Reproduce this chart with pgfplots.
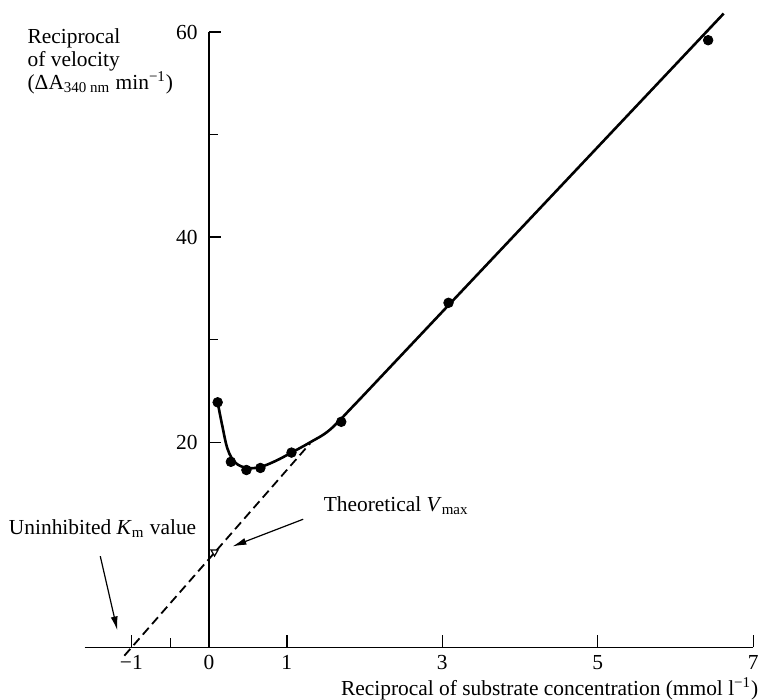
\documentclass[border=0pt]{standalone}
\usepackage{fontspec}
\setmainfont{Liberation Serif}
\usepackage{pgfplots}
\pgfplotsset{compat=1.18}
\usetikzlibrary{arrows.meta}

\begin{document}
\fontsize{10.7}{11.5}\selectfont
\begin{tikzpicture}
\begin{axis}[
  scale only axis, width=334pt, height=307.5pt,
  xmin=-1.6, xmax=7, ymin=0, ymax=60,
  axis lines=middle,
  axis line style={-, line width=0.7pt},
  clip=false,
  xtick={-1,0,1,3,5,7}, xticklabels={−1,0,1,3,5,7},
  minor xtick={-0.5},
  ytick={20,40,60}, minor ytick={30,50},
  hide obscured x ticks=false,
  tick align=inside,
  major tick length=6pt, minor tick length=4.5pt,
  tick style={black, line width=0.7pt},
  /pgf/number format/assume math mode=true,
  yticklabel style={xshift=-2pt},
]
% measured points
\addplot[only marks, mark=*, mark size=2.4pt, black] coordinates {
  (0.11,23.9) (0.28,18.1) (0.48,17.3) (0.66,17.5)
  (1.06,19.0) (1.70,22.0) (3.08,33.6) (6.42,59.2)
};
% fitted curve, joining the straight part
\addplot[black, line width=1.3pt, smooth, tension=0.6] coordinates {
  (0.11,23.9) (0.17,21.6) (0.24,19.3) (0.34,18.0) (0.49,17.5)
  (0.66,17.6) (0.86,18.2) (1.06,19.0) (1.30,20.0) (1.55,21.2)
  (1.85,23.5) (2.20,26.3)
};
\addplot[black, line width=1.3pt] coordinates {(2.20,26.3) (6.62,61.8)};
% theoretical line
\addplot[black, line width=0.9pt, dash pattern=on 4.5pt off 2.5pt] coordinates {(-1.09,-0.8) (1.30,19.9)};
\addplot[black, mark=triangle, mark size=2pt, mark options={rotate=180, line width=0.6pt}, only marks] coordinates {(0.07,9.3)};

\node[anchor=north west, align=left, inner sep=0] at (axis cs:-2.34,60.4)
  {Reciprocal\\of velocity\\(ΔA\textsubscript{340 nm} min\textsuperscript{−1})};
\node[anchor=east, inner sep=0] at (axis cs:7.07,-4.0)
  {Reciprocal of substrate concentration (mmol l\textsuperscript{−1})};
\node[anchor=west, inner sep=0] at (axis cs:1.47,13.8) {Theoretical \textit{V}\textsubscript{max}};
\node[anchor=west, inner sep=0] at (axis cs:-2.58,11.6) {Uninhibited \textit{K}\textsubscript{m} value};
\draw[line width=0.6pt, -{Latex[length=7pt, width=3.5pt]}] (axis cs:1.21,12.5) -- (axis cs:0.30,9.85);
\draw[line width=0.6pt, -{Latex[length=7pt, width=3.5pt]}] (axis cs:-1.40,8.9) -- (axis cs:-1.18,1.66);

\coordinate (bl) at (axis cs:-2.69,-5.07);
\coordinate (tr) at (axis cs:7.10,63.12);
\end{axis}
\pgfresetboundingbox
\path (bl) rectangle (tr);
\end{tikzpicture}
\end{document}
